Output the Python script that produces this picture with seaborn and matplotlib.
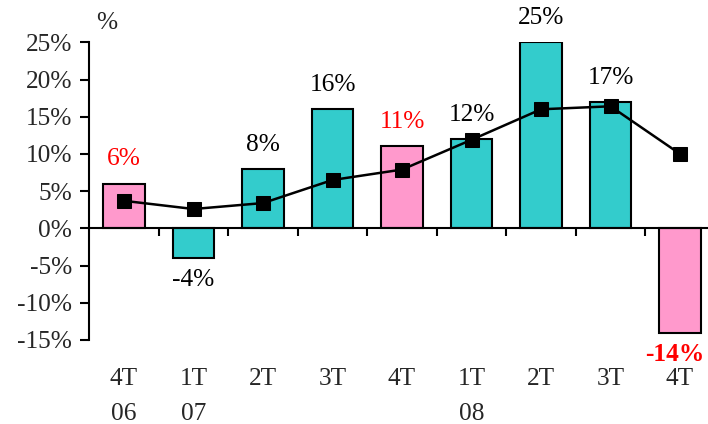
import numpy as np
import pandas as pd
import matplotlib
matplotlib.use("Agg")
import matplotlib.pyplot as plt
import seaborn as sns

# ---- data ----
periods = ["4T 06", "1T 07", "2T 07", "3T 07", "4T 07", "1T 08", "2T 08", "3T 08", "4T 08"]
tick_labels = ["4T\n06", "1T\n07", "2T", "3T", "4T", "1T\n08", "2T", "3T", "4T"]
bar_values = [6, -4, 8, 16, 11, 12, 25, 17, -14]
line_values = [3.7, 2.6, 3.4, 6.5, 7.9, 11.9, 16.0, 16.4, 10.0]
groups = ["q4", "other", "other", "other", "q4", "other", "other", "other", "q4"]
label_texts = ["6%", "-4%", "8%", "16%", "11%", "12%", "25%", "17%", "-14%"]
label_colors = ["red", "black", "black", "black", "red", "black", "black", "black", "red"]
label_weights = ["normal"] * 8 + ["bold"]
y_ticks = [-15, -10, -5, 0, 5, 10, 15, 20, 25]
y_tick_labels = ["-15%", "-10%", "-5%", "0%", "5%", "10%", "15%", "20%", "25%"]

# layout (label nudges, in points)
label_dx = [0, 0, 0, 0, 0, 0, 0, 0, -3.5]

FS = 18.3

sns.set_style("white")
plt.rcParams["font.family"] = ["Liberation Serif", "DejaVu Serif"]
plt.rcParams["font.size"] = FS

df = pd.DataFrame({"period": periods, "value": bar_values, "group": groups})

fig = plt.figure(figsize=(7.08, 4.24), dpi=100)
ax = fig.add_axes([89.3 / 708, (424 - 340) / 424, 625.5 / 708, (340 - 42.3) / 424])

sns.barplot(data=df, x="period", y="value", hue="group",
            palette={"q4": "#FF99CC", "other": "#33CCCC"}, saturation=1,
            dodge=False, width=0.6, edgecolor="black", linewidth=1.5,
            legend=False, ax=ax, zorder=2)

xs = np.arange(len(periods))
sns.lineplot(x=xs, y=line_values, color="black", linewidth=1.8, marker="s",
             markersize=10.5, markeredgecolor="black", markerfacecolor="black",
             ax=ax, zorder=3)

for i, (v, t, c, w) in enumerate(zip(bar_values, label_texts, label_colors, label_weights)):
    off = 17.5 if v >= 0 else -15.5
    ax.annotate(t, (i, v), xytext=(label_dx[i], off), textcoords="offset points",
                ha="center", va="center", color=c, fontweight=w, fontsize=FS, zorder=4)

ax.set_xlim(-0.5, len(periods) - 0.5)
ax.set_ylim(-15, 25)
ax.set_yticks(y_ticks)
ax.set_yticklabels(y_tick_labels)
ax.set_xlabel("")
ax.set_ylabel("")

for s in ["top", "right"]:
    ax.spines[s].set_visible(False)
ax.spines["left"].set_linewidth(1.5)
ax.spines["left"].set_color("black")
ax.spines["bottom"].set_linewidth(1.5)
ax.spines["bottom"].set_color("black")
ax.spines["bottom"].set_position(("data", 0))
ax.spines["bottom"].set_zorder(5)

ax.tick_params(axis="y", which="major", direction="out", length=6.5, width=1.5,
               color="black", pad=6, labelsize=FS, left=True)
ax.set_xticks(xs)
ax.set_xticklabels(tick_labels)
ax.set_xticks(np.arange(0.5, len(periods) - 1, 1.0), minor=True)
ax.tick_params(axis="x", which="major", length=0, pad=100.5, labelsize=FS, bottom=True)
ax.tick_params(axis="x", which="minor", direction="out", length=6, width=1.5,
               color="black", bottom=True)
for lbl in ax.get_xticklabels():
    lbl.set_linespacing(1.75)

ax.grid(False)
fig.text(107 / 708, 1 - 23 / 424, "%", ha="center", va="center", fontsize=FS)

fig.savefig("out.png", dpi=100)
